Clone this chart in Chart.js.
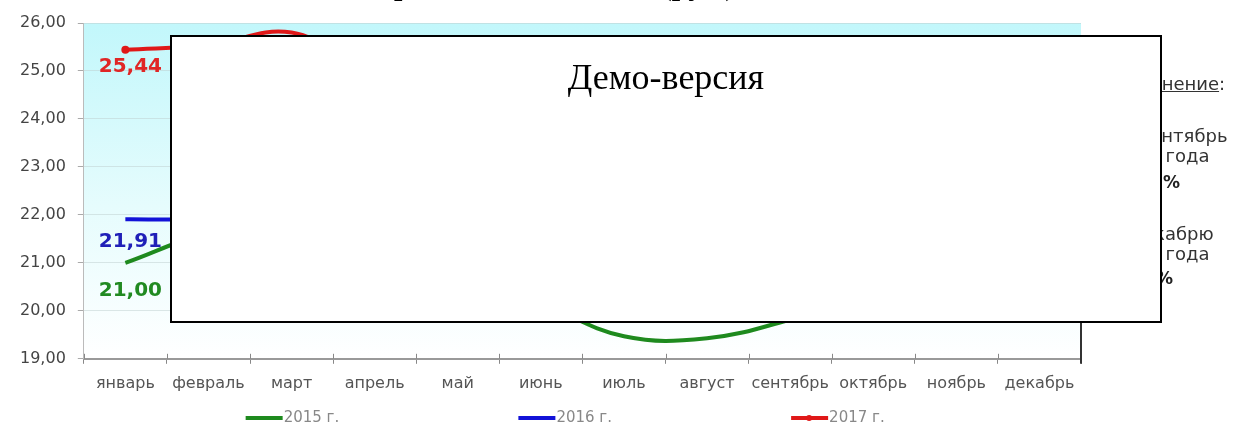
<!DOCTYPE html>
<html lang="ru">
<head>
<meta charset="utf-8">
<script src="https://cdn.jsdelivr.net/npm/chart.js@4/dist/chart.umd.min.js"></script>
<style>
  html, body { margin: 0; padding: 0; background: #fff; }
  #wrap { position: relative; width: 1240px; height: 425px; overflow: hidden; }
  #chartBox { position: absolute; left: 0; top: 0; width: 1240px; height: 425px; }
  #title { position: absolute; left: 0; width: 1240px; top: -32px; text-align: center;
           font: bold 30px "Liberation Serif", serif; color: #000; white-space: nowrap; line-height: 34px; }
  .side { position: absolute; left: 1114px; font: 18px "DejaVu Sans", sans-serif; color: #333;
          line-height: 22px; white-space: nowrap; }
  .side.b { font-weight: bold; color: #222; font-size: 17px; }
  #demo { position: absolute; left: 170px; top: 35px; width: 992px; height: 288px; box-sizing: border-box;
          border: 2px solid #000; background: #fff; text-align: center;
          font: 36px "Liberation Serif", serif; color: #000; padding-top: 20px; line-height: 40px; }
</style>
</head>
<body>
<div id="wrap">
  <div id="chartBox"><canvas id="c"></canvas></div>
  <div id="title">Средняя цена за 1 кг (руб.), по годам</div>
  <div class="side" style="top:73px"><u>Изменение</u>:</div>
  <div class="side" style="top:125px">за сентябрь</div>
  <div class="side" style="top:145px">2017 года</div>
  <div class="side b" id="chMonth" style="top:171px"></div>
  <div class="side" style="top:223px">к декабрю</div>
  <div class="side" style="top:243px">2016 года</div>
  <div class="side b" id="chYear" style="top:267px"></div>
  <div id="demo">Демо-версия</div>
</div>
<script>
// ---- data ----
const months = ['январь','февраль','март','апрель','май','июнь','июль','август','сентябрь','октябрь','ноябрь','декабрь'];
const seriesNames = ['2015 г.', '2016 г.', '2017 г.'];
const values2015 = [21.00, 21.60, 21.70, 21.20, 20.70, 20.15, 19.47, 19.43, 19.82, 20.40, 20.90, 21.30];
const values2016 = [21.91, 21.92, 22.10, 22.40, 22.80, 23.10, 23.50, 23.80, 24.10, 24.40, 24.60, 24.82];
const values2017 = [25.44, 25.54, 25.80, 25.00, 25.30, 25.35, 25.45, 25.39, 25.20];
const yMin = 19, yMax = 26, yStep = 1;

const fmt = v => v.toFixed(2).replace('.', ',');

// side text computed from data
const sep17 = values2017[8], aug17 = values2017[7], dec16 = values2016[11];
const pct = (a, b) => { const p = (a / b - 1) * 100; return (p < 0 ? '-' : '') + Math.abs(p).toFixed(2).replace('.', ',') + '%'; };
document.getElementById('chMonth').textContent = pct(sep17, aug17);
document.getElementById('chYear').textContent = pct(sep17, dec16);

Chart.defaults.font.family = '"DejaVu Sans", sans-serif';

const bgPlugin = {
  id: 'bg',
  beforeDraw(chart) {
    const {ctx, chartArea: a} = chart;
    const g = ctx.createLinearGradient(0, a.top, 0, a.bottom);
    g.addColorStop(0, '#c2f7fb');
    g.addColorStop(0.55, '#e6fcfd');
    g.addColorStop(1, '#ffffff');
    ctx.save();
    ctx.fillStyle = g;
    ctx.fillRect(a.left, a.top, a.right - a.left, a.bottom - a.top);
    ctx.restore();
  },
  afterDraw(chart) {
    const {ctx, chartArea: a} = chart;
    const xs = chart.scales.x;
    ctx.save();
    // upper halves of the x tick marks
    ctx.strokeStyle = '#888';
    ctx.lineWidth = 1;
    const n = chart.data.labels.length;
    for (let i = 0; i <= n; i++) {
      let x;
      if (i === 0) x = a.left; else if (i === n) x = a.right;
      else x = (xs.getPixelForValue(i - 1) + xs.getPixelForValue(i)) / 2;
      x = Math.round(x) + 0.5;
      ctx.beginPath(); ctx.moveTo(x, a.bottom - 5); ctx.lineTo(x, a.bottom); ctx.stroke();
    }
    // right end marker line
    ctx.strokeStyle = '#333';
    ctx.lineWidth = 2;
    ctx.beginPath(); ctx.moveTo(a.right, a.bottom - 36); ctx.lineTo(a.right, a.bottom + 5); ctx.stroke();

    // legend
    const y = 418;
    chart.data.datasets.forEach((ds, i) => {
      const x0 = a.left + (a.right - a.left) * (0.1623 + 0.2735 * i);
      ctx.strokeStyle = ds.borderColor;
      ctx.lineWidth = 4;
      ctx.beginPath(); ctx.moveTo(x0, y); ctx.lineTo(x0 + 37, y); ctx.stroke();
      if (ds.legendMarker) {
        ctx.fillStyle = ds.borderColor;
        ctx.beginPath(); ctx.arc(x0 + 18, y, 3, 0, Math.PI * 2); ctx.fill();
      }
      ctx.fillStyle = '#888';
      ctx.font = '15px "DejaVu Sans", sans-serif';
      ctx.textAlign = 'left';
      ctx.textBaseline = 'middle';
      ctx.fillText(ds.label, x0 + 38, y);
    });
    ctx.restore();
  },
  afterDatasetsDraw(chart) {
    const {ctx} = chart;
    ctx.save();
    chart.data.datasets.forEach((ds, i) => {
      const meta = chart.getDatasetMeta(i);
      const p = meta.data[0];
      if (!p) return;
      ctx.font = 'bold 20px "DejaVu Sans", sans-serif';
      ctx.fillStyle = ds.labelColor;
      ctx.textAlign = 'center';
      ctx.textBaseline = 'middle';
      ctx.fillText(fmt(ds.data[0]), p.x + 5, p.y + ds.labelOffset);
    });
    ctx.restore();
  }
};

new Chart(document.getElementById('c'), {
  type: 'line',
  data: {
    labels: months,
    datasets: [
      { label: seriesNames[0], data: values2015, borderColor: '#1e8a1e', borderWidth: 4, tension: 0.4,
        pointRadius: 0, labelColor: '#218a21', labelOffset: 28 },
      { label: seriesNames[1], data: values2016, borderColor: '#1212d8', borderWidth: 4, tension: 0.4,
        pointRadius: 0, labelColor: '#2020b8', labelOffset: 23 },
      { label: seriesNames[2], data: values2017, borderColor: '#e01818', borderWidth: 4, tension: 0.4,
        pointRadius: c => c.dataIndex === 0 ? 4 : 0, pointBackgroundColor: '#e01818', pointBorderWidth: 0,
        legendMarker: true, labelColor: '#e02626', labelOffset: 17 }
    ]
  },
  options: {
    responsive: true,
    maintainAspectRatio: false,
    animation: false,
    devicePixelRatio: 1,
    layout: { padding: { left: 8, right: 159, top: 23, bottom: 22 } },
    plugins: { legend: { display: false }, tooltip: { enabled: false } },
    scales: {
      x: {
        offset: true,
        grid: { offset: true, drawOnChartArea: false, tickLength: 5, tickColor: '#888' },
        border: { color: '#999', width: 2 },
        ticks: { autoSkip: false, maxRotation: 0, padding: 10, color: '#555', font: { size: 16 } }
      },
      y: {
        min: yMin, max: yMax,
        grid: { color: 'rgba(190,205,205,0.5)', tickLength: 6, tickColor: '#aaa' },
        border: { color: '#bbb', width: 1 },
        ticks: { stepSize: yStep, padding: 12, color: '#444', font: { size: 16 }, callback: v => fmt(v) }
      }
    }
  },
  plugins: [bgPlugin]
});
</script>
</body>
</html>
